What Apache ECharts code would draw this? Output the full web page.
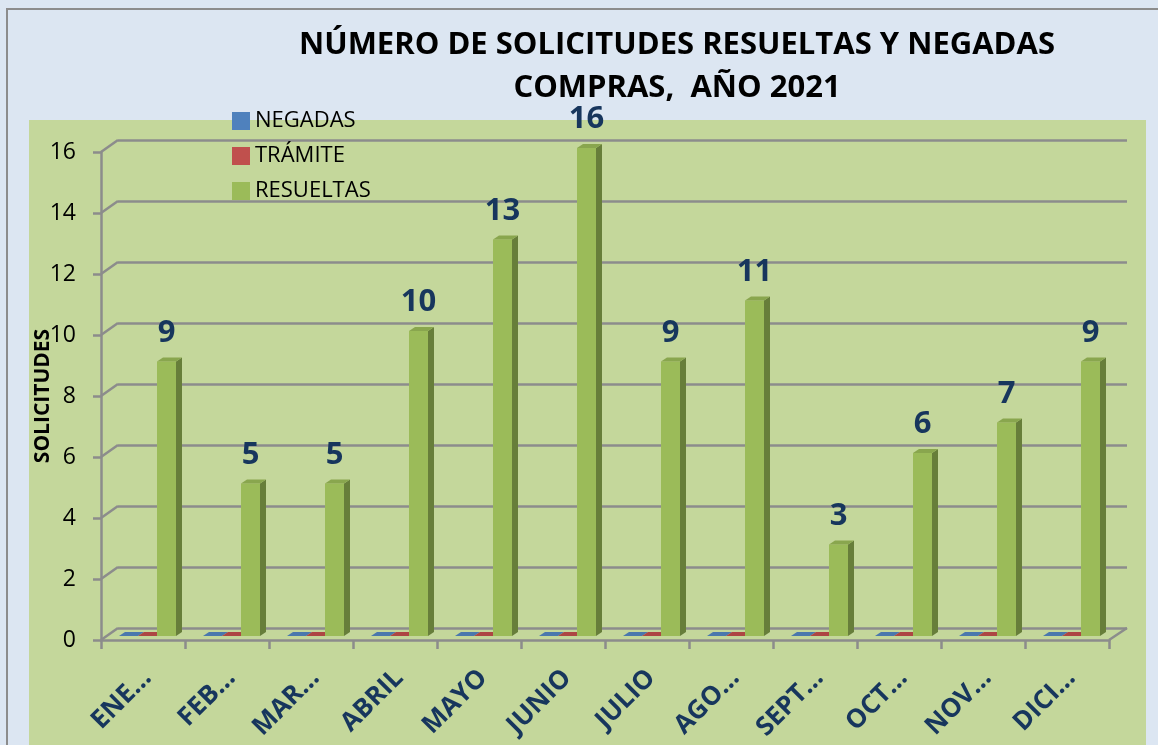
<!DOCTYPE html>
<html>
<head>
<meta charset="utf-8">
<script src="https://cdn.jsdelivr.net/npm/echarts@6/dist/echarts.min.js"></script>
<style>
  html, body { margin: 0; padding: 0; background: #dce6f2; }
  #chart { width: 1158px; height: 745px; }
</style>
</head>
<body>
<div id="chart"></div>
<script>
// datos del gráfico
const meses = ['ENE…', 'FEB…', 'MAR…', 'ABRIL', 'MAYO', 'JUNIO', 'JULIO', 'AGO…', 'SEPT…', 'OCT…', 'NOV…', 'DICI…']
const negadas = [0, 0, 0, 0, 0, 0, 0, 0, 0, 0, 0, 0]
const tramite = [0, 0, 0, 0, 0, 0, 0, 0, 0, 0, 0, 0]
const resueltas = [9, 5, 5, 10, 13, 16, 9, 11, 3, 6, 7, 9]
const yTicks = [0, 2, 4, 6, 8, 10, 12, 14, 16]

const FONT = '"Open Sans", sans-serif'
const NAVY = '#17365d'
const GRID_GRAY = '#8c8c8c'

// caras de la barra 3D: frente, lateral, superior
const colores = [
  { front: '#4f81bd', side: '#385d8a', top: '#4a78ad' },
  { front: '#c0504d', side: '#8c3836', top: '#ad4643' },
  { front: '#9bbb59', side: '#677e3a', top: '#89a64e' },
]

const BAR_W = 19
const DEPTH_X = 6
const DEPTH_Y = -4
const SHIFT_X = -24
const SHIFT_Y = -4

function barra3d(s, withLabel) {
  return function (params, api) {
    const idx = api.value(0)
    const v = api.value(1)
    const base = api.coord([idx, 0])
    const tope = api.coord([idx, v])
    const x = base[0] + SHIFT_X + s * BAR_W
    const yb = base[1] + SHIFT_Y
    const yt = tope[1] + SHIFT_Y
    const c = colores[s]
    const children = [
      { type: 'rect', shape: { x: x, y: yt, width: BAR_W, height: yb - yt }, style: { fill: c.front } },
      {
        type: 'polygon',
        shape: { points: [[x + BAR_W, yt], [x + BAR_W + DEPTH_X, yt + DEPTH_Y], [x + BAR_W + DEPTH_X, yb + DEPTH_Y], [x + BAR_W, yb]] },
        style: { fill: c.side },
      },
      {
        type: 'polygon',
        shape: { points: [[x, yt], [x + DEPTH_X, yt + DEPTH_Y], [x + BAR_W + DEPTH_X, yt + DEPTH_Y], [x + BAR_W, yt]] },
        style: { fill: c.top },
      },
    ]
    if (withLabel) {
      children.push({
        type: 'text',
        style: {
          text: String(v),
          x: x + BAR_W / 2,
          y: yt - 13,
          align: 'center',
          verticalAlign: 'bottom',
          fill: NAVY,
          font: 'bold 31px ' + FONT,
        },
      })
    }
    return { type: 'group', children: children }
  }
}

// diagonales de la pared izquierda y del piso
function paredes(params, api) {
  const v = api.value(1)
  const band = api.size([1, 0])[0]
  const p = api.coord([0, v])
  const x0 = p[0] - band / 2
  const line = (a, b) => ({
    type: 'line',
    shape: { x1: a[0], y1: a[1], x2: b[0], y2: b[1] },
    style: { stroke: GRID_GRAY, lineWidth: 2.5 },
  })
  const children = [line([x0, p[1]], [x0 + 17, p[1] - 12])]
  if (v === 0) {
    const q = api.coord([meses.length - 1, 0])
    const x1 = q[0] + band / 2
    children.push(line([x1, q[1]], [x1 + 18, q[1] - 12]))
  }
  return { type: 'group', children: children }
}

const chart = echarts.init(document.getElementById('chart'))

chart.setOption({
  backgroundColor: '#dce6f2',
  animation: false,
  graphic: [
    { type: 'rect', shape: { x: 7, y: 9, width: 1200, height: 800 }, style: { fill: 'none', stroke: '#8c8c8c', lineWidth: 2 }, z: -10 },
    { type: 'rect', shape: { x: 29, y: 120, width: 1117, height: 640 }, style: { fill: '#c4d79b' }, z: -10 },
  ],
  title: {
    text: 'NÚMERO DE SOLICITUDES RESUELTAS Y NEGADAS\nCOMPRAS,  AÑO 2021',
    left: 672,
    top: 19,
    textAlign: 'center',
    textStyle: { fontFamily: FONT, fontSize: 31, fontWeight: 'bold', color: '#000', lineHeight: 43 },
  },
  legend: {
    data: ['NEGADAS', 'TRÁMITE', 'RESUELTAS'],
    orient: 'vertical',
    left: 232,
    top: 109,
    padding: 0,
    icon: 'rect',
    itemWidth: 18,
    itemHeight: 18,
    itemGap: 11,
    textStyle: { fontFamily: FONT, fontSize: 22, color: '#000', lineHeight: 24, padding: [0, 0, 0, 0] },
  },
  grid: [
    { left: 101, right: 49, top: 152, bottom: 105 },
    { left: 118, right: 31, top: 140, bottom: 117 },
  ],
  xAxis: [
    {
      type: 'category',
      gridIndex: 0,
      data: meses,
      axisLine: { lineStyle: { color: GRID_GRAY, width: 2.5 } },
      axisTick: { show: true, length: 9, lineStyle: { color: GRID_GRAY, width: 2.5 } },
      axisLabel: {
        rotate: 45,
        margin: 38,
        interval: 0,
        color: NAVY,
        fontFamily: FONT,
        fontSize: 26,
        fontWeight: 'bold',
        padding: [0, -6, 0, 0],
      },
    },
    { type: 'category', gridIndex: 1, data: meses, show: false },
  ],
  yAxis: [
    {
      type: 'value',
      gridIndex: 0,
      min: 0,
      max: 16,
      interval: 2,
      axisLine: { show: true, lineStyle: { color: GRID_GRAY, width: 2.5 } },
      axisTick: { show: true, length: 8, lineStyle: { color: GRID_GRAY, width: 2.5 } },
      axisLabel: { margin: 25, color: '#000', fontFamily: FONT, fontSize: 23 },
      splitLine: { show: false },
    },
    {
      type: 'value',
      gridIndex: 1,
      min: 0,
      max: 16,
      interval: 2,
      axisLine: { show: false },
      axisTick: { show: false },
      axisLabel: { show: false },
      splitLine: { show: true, lineStyle: { color: GRID_GRAY, width: 2.5 } },
    },
    {
      // eje solo para el título vertical
      type: 'value',
      gridIndex: 0,
      min: 0,
      max: 16,
      interval: 2,
      position: 'left',
      name: 'SOLICITUDES',
      nameLocation: 'middle',
      nameRotate: 90,
      nameGap: 47,
      nameTextStyle: { fontFamily: FONT, fontSize: 21, fontWeight: 'bold', color: '#000' },
      axisLine: { show: false },
      axisTick: { show: false },
      axisLabel: { show: false },
      splitLine: { show: false },
    },
  ],
  series: [
    {
      type: 'custom',
      name: 'paredes',
      renderItem: paredes,
      data: yTicks.map((t) => [0, t]),
      z: 1,
      silent: true,
    },
    {
      type: 'custom',
      name: 'NEGADAS',
      itemStyle: { color: colores[0].front },
      renderItem: barra3d(0, false),
      data: negadas.map((v, i) => [i, v]),
      z: 3,
    },
    {
      type: 'custom',
      name: 'TRÁMITE',
      itemStyle: { color: colores[1].front },
      renderItem: barra3d(1, false),
      data: tramite.map((v, i) => [i, v]),
      z: 3,
    },
    {
      type: 'custom',
      name: 'RESUELTAS',
      itemStyle: { color: colores[2].front },
      renderItem: barra3d(2, true),
      data: resueltas.map((v, i) => [i, v]),
      z: 3,
    },
  ],
})
</script>
</body>
</html>
